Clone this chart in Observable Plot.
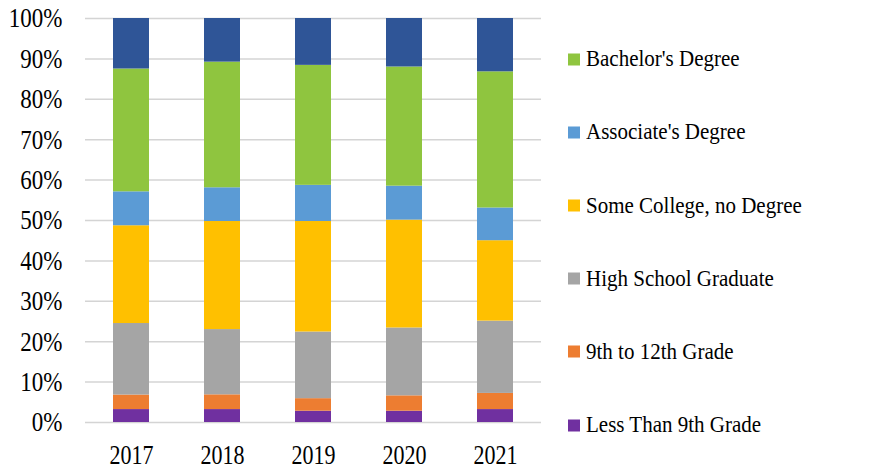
<!DOCTYPE html>
<html>
<head>
<meta charset="utf-8">
<script src="https://cdn.jsdelivr.net/npm/d3@7"></script>
<script src="https://cdn.jsdelivr.net/npm/@observablehq/plot@0.6"></script>
<style>
  html, body { margin: 0; padding: 0; background: #fff; }
  #wrap { position: relative; width: 872px; height: 472px; overflow: hidden; font-family: 'Liberation Serif'; }
</style>
</head>
<body>
<div id="wrap"></div>
<script>
// ---- data (percent of population) ----
const years = ["2017", "2018", "2019", "2020", "2021"];
const categories = [
  "Less Than 9th Grade",
  "9th to 12th Grade",
  "High School Graduate",
  "Some College, no Degree",
  "Associate's Degree",
  "Bachelor's Degree",
  "Graduate Degree"
];
const lessThan9th   = [3.2, 3.2, 2.8, 2.8, 3.2];
const grade9to12    = [3.6, 3.65, 3.1, 3.8, 4.0];
const highSchool    = [17.7, 16.15, 16.5, 16.8, 17.9];
const someCollege   = [24.2, 26.75, 27.35, 26.7, 19.9];
const associates    = [8.4, 8.35, 8.95, 8.4, 8.1];
const bachelors     = [30.4, 31.1, 29.7, 29.5, 33.7];
const graduate      = [12.5, 10.8, 11.6, 12.0, 13.2];
const seriesValues = [lessThan9th, grade9to12, highSchool, someCollege, associates, bachelors, graduate];
const colors = ["#7030A0", "#ED7D31", "#A5A5A5", "#FFC000", "#5B9BD5", "#8FC53F", "#2F5597"];
const yTicks = [0, 10, 20, 30, 40, 50, 60, 70, 80, 90, 100];
const legendLabels = ["Bachelor's Degree", "Associate's Degree", "Some College, no Degree", "High School Graduate", "9th to 12th Grade", "Less Than 9th Grade"];

// ---- table for Plot ----
const rows = [];
categories.forEach((c, ci) => years.forEach((y, yi) => rows.push({year: y, category: c, value: seriesValues[ci][yi]})));

const chart = Plot.plot({
  width: 872,
  height: 472,
  marginTop: 18,
  marginBottom: 50,
  marginLeft: 85,
  marginRight: 331,
  style: { fontFamily: "'Liberation Serif', serif", color: "#000", background: "#fff" },
  x: { domain: years, paddingInner: 0.605, paddingOuter: 0.3, label: null },
  y: { domain: [0, 100], label: null },
  color: { domain: categories, range: colors },
  marks: [
    Plot.gridY(yTicks, { stroke: "#d4d4d4", strokeOpacity: 1, strokeWidth: 1.5 }),
    Plot.barY(rows, { x: "year", y: "value", fill: "category", order: categories }),
    Plot.axisY(yTicks, { tickSize: 0, tickPadding: 23, fontSize: 23, tickFormat: d => d + "%", label: null }),
    Plot.axisX({ tickSize: 0, tickPadding: 21, fontSize: 22, label: null })
  ]
});

// slightly taller glyphs, as in the reference
chart.querySelectorAll("g[aria-label]").forEach(g => {
  const lab = g.getAttribute("aria-label");
  if (lab === "y-axis tick label" || lab === "x-axis tick label") {
    const s = lab.startsWith("y") ? 1.2 : 1.28;
    g.querySelectorAll("text").forEach(t => {
      const tr = t.getAttribute("transform") || "";
      t.setAttribute("transform", tr + ` scale(1,${s})`);
    });
  }
});

const wrap = document.getElementById("wrap");
wrap.appendChild(chart);

// ---- legend (HTML, right of the plot) ----
legendLabels.forEach((lab, i) => {
  const item = document.createElement("div");
  Object.assign(item.style, {
    position: "absolute", left: "568px", top: (59.3 + i * 73.15) + "px",
    display: "flex", alignItems: "center", transform: "translateY(-50%)",
    fontFamily: "'Liberation Serif'", fontSize: "21px", color: "#000", whiteSpace: "nowrap"
  });
  const sw = document.createElement("span");
  Object.assign(sw.style, { width: "12px", height: "12px", marginRight: "6px", flex: "none", background: colors[categories.indexOf(lab)] });
  const tx = document.createElement("span");
  Object.assign(tx.style, { display: "inline-block", transform: "scaleY(1.12)", fontFamily: "'Liberation Serif'" });
  tx.textContent = lab;
  item.appendChild(sw);
  item.appendChild(tx);
  wrap.appendChild(item);
});
</script>
</body>
</html>
